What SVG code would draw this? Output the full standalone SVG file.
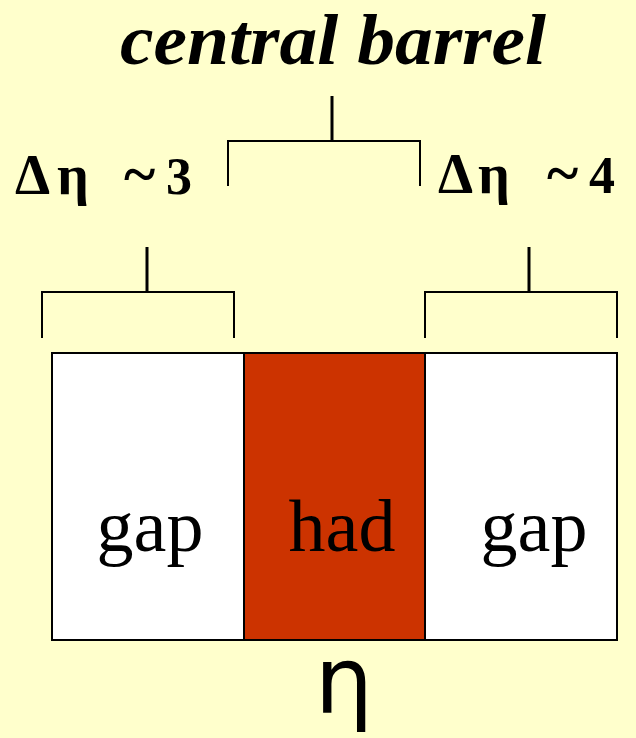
<svg xmlns="http://www.w3.org/2000/svg" width="636" height="738" viewBox="0 0 636 738">
<style>
.ln{stroke:#000;stroke-width:2;fill:none}
.stem{stroke:#000;stroke-width:3;fill:none}
.box{stroke:#000;stroke-width:2}
.lbl{font-family:"Liberation Serif","Times New Roman",serif;font-size:74px;fill:#000;text-anchor:middle}
.de{font-family:"Liberation Serif","Times New Roman",serif;font-weight:bold;fill:#000}
</style>
<rect width="636" height="738" fill="#FFFFCC"/>
<text x="333" y="64" text-anchor="middle" font-family="'Liberation Serif','Times New Roman',serif" font-style="italic" font-weight="bold" font-size="72" textLength="426" lengthAdjust="spacingAndGlyphs">central barrel</text>
<g id="connectors">
<path class="stem" d="M332 96V141"/>
<path class="ln" d="M228 186V141H420V186"/>
<path class="stem" d="M147 247V292"/>
<path class="ln" d="M42 338V292H234V338"/>
<path class="stem" d="M529 247V292"/>
<path class="ln" d="M425 338V292H617V338"/>
</g>
<g id="label-left">
<text class="de" y="194"><tspan x="15" font-size="56">Δ</tspan><tspan x="57" font-size="56">η</tspan><tspan x="124" font-size="60">~</tspan><tspan x="166" font-size="52">3</tspan></text>
</g>
<g id="label-right">
<text class="de" y="193"><tspan x="438" font-size="56">Δ</tspan><tspan x="478" font-size="56">η</tspan><tspan x="547" font-size="60">~</tspan><tspan x="589" font-size="52">4</tspan></text>
</g>
<g id="gap-left">
<rect class="box" x="52" y="353" width="192" height="287" fill="#FFFFFF"/>
<text class="lbl" x="150" y="551">gap</text>
</g>
<g id="had">
<rect class="box" x="244" y="353" width="181" height="287" fill="#CC3300"/>
<text class="lbl" x="342" y="551">had</text>
</g>
<g id="gap-right">
<rect class="box" x="425" y="353" width="192" height="287" fill="#FFFFFF"/>
<text class="lbl" x="534" y="551">gap</text>
</g>
<text x="344" y="713" text-anchor="middle" font-family="'DejaVu Sans','Liberation Sans',sans-serif" font-size="92">η</text>
</svg>
